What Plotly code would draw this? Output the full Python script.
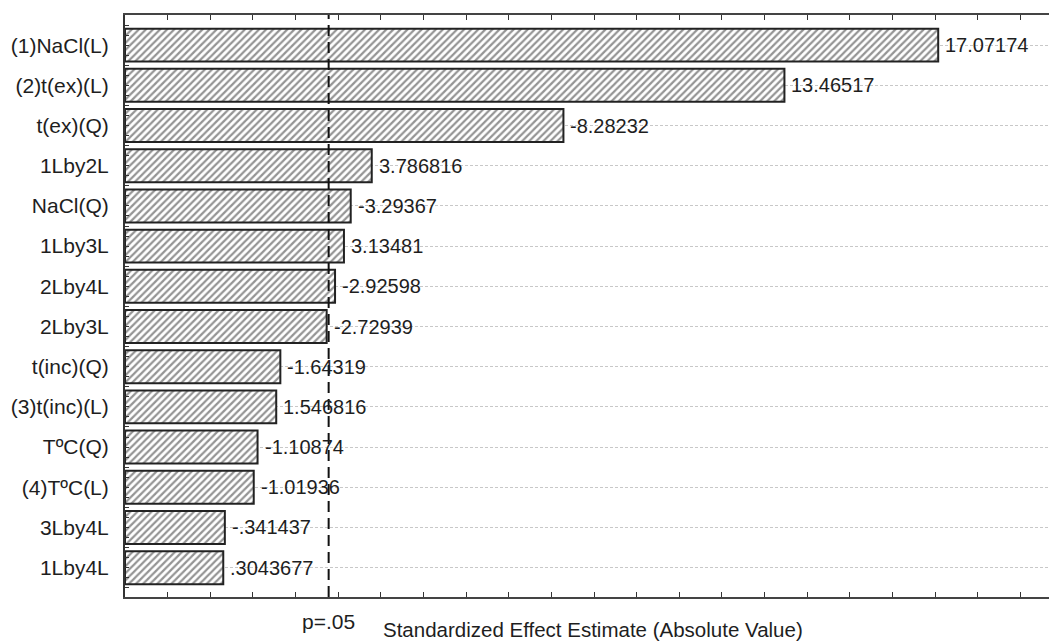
import plotly.graph_objects as go

# Pareto chart of standardized effects
factors = [
    "(1)NaCl(L)", "(2)t(ex)(L)", "t(ex)(Q)", "1Lby2L", "NaCl(Q)", "1Lby3L",
    "2Lby4L", "2Lby3L", "t(inc)(Q)", "(3)t(inc)(L)", "TºC(Q)", "(4)TºC(L)",
    "3Lby4L", "1Lby4L",
]
effects = [
    17.07174, 13.46517, -8.28232, 3.786816, -3.29367, 3.13481,
    -2.92598, -2.72939, -1.64319, 1.546816, -1.10874, -1.01936,
    -0.341437, 0.3043677,
]
p_critical = 2.776  # t(0.975, df=4)

X_MIN, X_MAX = -2.0, 19.67
FONT = "Liberation Sans, Arial, sans-serif"
TXT = "#1e1e1e"


def stat_fmt(v):
    s = f"{v:.7g}"
    if s.startswith("0."):
        s = s[1:]
    elif s.startswith("-0."):
        s = "-" + s[2:]
    return s


ypos = list(range(len(factors)))
abs_eff = [abs(v) for v in effects]

fig = go.Figure()
fig.add_trace(go.Bar(
    orientation="h",
    y=ypos,
    x=[a - X_MIN for a in abs_eff],
    base=X_MIN,
    width=0.82,
    marker=dict(
        color="white",
        line=dict(color="#222222", width=2),
        pattern=dict(shape="/", fgcolor="#2a2a2a", bgcolor="white",
                     size=5, solidity=0.45),
    ),
    hoverinfo="skip",
    showlegend=False,
))

annotations = []
for yi, a, v in zip(ypos, abs_eff, effects):
    annotations.append(dict(
        x=a, y=yi, xref="x", yref="y", text=stat_fmt(v),
        showarrow=False, xanchor="left", yanchor="middle", xshift=5,
        font=dict(family=FONT, size=20, color=TXT),
    ))

annotations.append(dict(
    x=p_critical, y=0, xref="x", yref="paper", text="p=.05",
    showarrow=False, xanchor="center", yanchor="top", yshift=-11,
    font=dict(family=FONT, size=21, color=TXT),
))
annotations.append(dict(
    x=0.5065, y=0, xref="paper", yref="paper",
    text="Standardized Effect Estimate (Absolute Value)",
    showarrow=False, xanchor="center", yanchor="top", yshift=-19,
    font=dict(family=FONT, size=20.5, color=TXT),
))

fig.add_shape(
    type="line", x0=p_critical, x1=p_critical, y0=0, y1=1,
    xref="x", yref="paper", layer="above",
    line=dict(color="#111111", width=2, dash="11px,6px"),
)

fig.update_layout(
    width=1049, height=642,
    margin=dict(l=125, r=0, t=15, b=45),
    paper_bgcolor="white", plot_bgcolor="white",
    font=dict(family=FONT, size=21, color=TXT),
    annotations=annotations,
)

fig.update_xaxes(
    range=[X_MIN, X_MAX],
    tickmode="linear", tick0=X_MIN, dtick=1,
    showticklabels=False,
    ticks="inside", ticklen=5, tickcolor="#333333",
    showline=True, linecolor="#444444", linewidth=2, mirror="ticks",
    showgrid=False, zeroline=False,
)

fig.update_yaxes(
    range=[len(factors) - 0.27, -0.75],
    tickmode="array", tickvals=ypos, ticktext=factors,
    ticks="inside", ticklen=4, tickcolor="#333333",
    minor=dict(tickmode="linear", tick0=0, dtick=0.25, ticks="inside",
               ticklen=4, tickcolor="#333333", showgrid=False),
    ticklabelstandoff=10,
    tickfont=dict(family=FONT, size=21, color=TXT),
    showline=True, linecolor="#333333", linewidth=2, mirror=False,
    showgrid=True, gridcolor="#c8c8c8", griddash="3px,2px", gridwidth=1,
    zeroline=False,
)

fig.write_html("out.html")
